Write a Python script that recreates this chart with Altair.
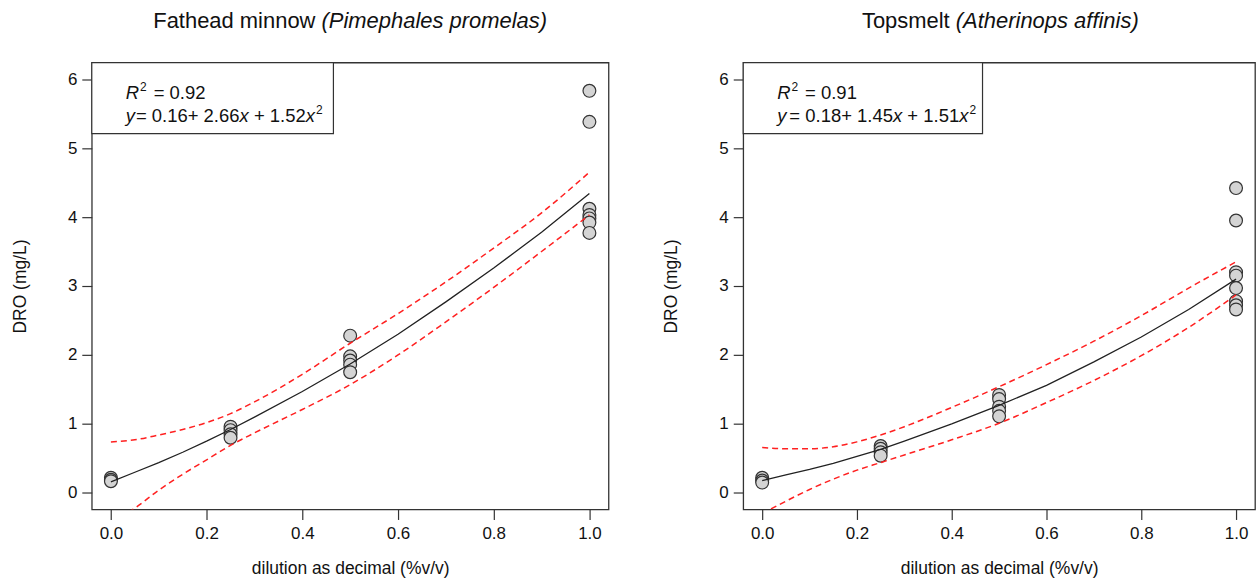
import altair as alt
import pandas as pd

# ---------------- data ----------------
# Fathead minnow
fm_x = [0, 0, 0, 0.25, 0.25, 0.25, 0.25, 0.5, 0.5, 0.5, 0.5, 0.5,
        1, 1, 1, 1, 1, 1, 1]
fm_y = [0.22, 0.19, 0.17, 0.96, 0.91, 0.85, 0.80, 2.28, 1.98, 1.92, 1.86, 1.75,
        5.83, 5.38, 4.12, 4.03, 3.98, 3.92, 3.77]
fm_cx = [0, 0.05, 0.1, 0.15, 0.2, 0.25, 0.3, 0.4, 0.5, 0.6, 0.7, 0.8, 0.9, 1.0]
fm_fit = [0.16, 0.30, 0.44, 0.59, 0.75, 0.92, 1.10, 1.47, 1.87, 2.30, 2.77, 3.26, 3.78, 4.34]
fm_up = [0.74, 0.77, 0.84, 0.92, 1.02, 1.15, 1.32, 1.72, 2.17, 2.60, 3.06, 3.55, 4.06, 4.65]
fm_lo = [-0.42, -0.22, 0.04, 0.27, 0.48, 0.69, 0.87, 1.21, 1.57, 2.00, 2.48, 2.98, 3.50, 4.03]

# Topsmelt
ts_x = [0, 0, 0, 0.25, 0.25, 0.25, 0.25, 0.5, 0.5, 0.5, 0.5, 0.5,
        1, 1, 1, 1, 1, 1, 1, 1]
ts_y = [0.22, 0.18, 0.15, 0.68, 0.64, 0.59, 0.54, 1.42, 1.36, 1.25, 1.19, 1.11,
        4.42, 3.95, 3.20, 3.15, 2.97, 2.78, 2.72, 2.66]
ts_cx = [0, 0.05, 0.1, 0.15, 0.2, 0.25, 0.3, 0.4, 0.5, 0.6, 0.7, 0.8, 0.9, 1.0]
ts_fit = [0.18, 0.26, 0.34, 0.43, 0.53, 0.63, 0.75, 1.00, 1.27, 1.56, 1.90, 2.26, 2.66, 3.10]
ts_up = [0.66, 0.64, 0.64, 0.67, 0.74, 0.84, 0.96, 1.24, 1.54, 1.86, 2.20, 2.57, 2.97, 3.35]
ts_lo = [-0.30, -0.12, 0.05, 0.20, 0.33, 0.44, 0.55, 0.77, 1.01, 1.31, 1.63, 1.99, 2.40, 2.87]

x_ticks = [0.0, 0.2, 0.4, 0.6, 0.8, 1.0]
y_ticks = [0, 1, 2, 3, 4, 5, 6]

titles = {
    "fm": ("Fathead minnow", "(Pimephales promelas)"),
    "ts": ("Topsmelt", "(Atherinops affinis)"),
}
r2 = {"fm": "0.92", "ts": "0.91"}
eq = {"fm": ["0.16", "2.66", "1.52"], "ts": ["0.18", "1.45", "1.51"]}

# ---------------- layout / style ----------------
W_LEFT = 518
W_RIGHT = 513
H_PLOT = 448
FONT = "Liberation Sans, Arial, Helvetica, sans-serif"
X_DOM = [-0.04, 1.04]
Y_DOM = [-0.24, 6.24]
BOX_X2 = 0.465
BOX_Y1 = 5.21
TXT = "#111111"
EQ_GAP = {"fm": 1, "ts": 3}

AW = {" ": 278, "(": 333, ")": 333, "A": 667, "F": 611, "P": 667, "T": 611,
      "R": 722, "=": 584, "+": 584, ".": 278, "a": 556, "d": 556, "e": 556,
      "f": 278, "h": 556, "i": 222, "l": 222, "m": 833, "n": 556, "o": 556,
      "p": 556, "r": 333, "s": 500, "t": 278, "w": 722, "y": 500, "x": 500}


def tw(s, size):
    return sum(AW.get(c, 556) for c in s) * size / 1000.0


def txt(t, x, y, size, italic=False, align="left"):
    return alt.Chart(alt.Data(values=[{"a": 1}])).mark_text(
        text=t, align=align, baseline="alphabetic", fontSize=size,
        fontStyle="italic" if italic else "normal", font=FONT, color=TXT
    ).encode(x=alt.value(x), y=alt.value(y))


def panel(key, width, px, py, cx, fit, up, lo):
    xs = alt.Scale(domain=X_DOM, nice=False, zero=False)
    ys = alt.Scale(domain=Y_DOM, nice=False, zero=False)
    xax = alt.Axis(values=x_ticks, format=".1f", title="dilution as decimal (%v/v)")
    yax = alt.Axis(values=y_ticks, format="d", title="DRO (mg/L)")

    pts = alt.Chart(pd.DataFrame({"x": px, "y": py})).mark_point(
        shape="circle", filled=True, fill="#d4d4d4", stroke="#333333",
        strokeWidth=1.2, size=165, opacity=1
    ).encode(x=alt.X("x:Q", scale=xs, axis=xax), y=alt.Y("y:Q", scale=ys, axis=yax))

    cdf = pd.DataFrame({"x": cx, "fit": fit, "up": up, "lo": lo})
    base = alt.Chart(cdf)
    fitl = base.mark_line(color="#222222", strokeWidth=1.3, clip=True).encode(
        x=alt.X("x:Q", scale=xs), y=alt.Y("fit:Q", scale=ys))
    upl = base.mark_line(color="#ff2020", strokeWidth=1.5, strokeDash=[6, 4],
                         clip=True, interpolate="monotone").encode(
        x=alt.X("x:Q", scale=xs), y=alt.Y("up:Q", scale=ys))
    lol = base.mark_line(color="#ff2020", strokeWidth=1.5, strokeDash=[6, 4],
                         clip=True, interpolate="monotone").encode(
        x=alt.X("x:Q", scale=xs), y=alt.Y("lo:Q", scale=ys))

    box = alt.Chart(alt.Data(values=[{"x1": X_DOM[0], "x2": BOX_X2,
                                      "y1": BOX_Y1, "y2": Y_DOM[1]}])).mark_rect(
        fill="white", stroke="#333333", strokeWidth=1.2
    ).encode(x=alt.X("x1:Q", scale=xs), x2="x2:Q",
             y=alt.Y("y1:Q", scale=ys), y2="y2:Q")

    layers = [pts, fitl, upl, lol, box]

    # title pieces: normal part right-aligned, italic part left-aligned
    tsz = 22
    normal, ital = titles[key]
    total = tw(normal + " " + ital, tsz)
    x0 = width / 2 - total / 2
    split = x0 + tw(normal, tsz)
    layers.append(txt(normal, split, -35, tsz, False, align="right"))
    layers.append(txt(ital, split + tw(" ", tsz), -35, tsz, True))

    # legend text
    lx = 34
    b1, b2 = 37, 60
    s, ss = 18.5, 12
    layers.append(txt("R", lx, b1, s, True))
    layers.append(txt("2", lx + tw("R", s) + 1, b1 - 8, ss))
    layers.append(txt("= " + r2[key], lx + tw("R", s) + tw("2", ss) + 8, b1, s))
    a, b, c = eq[key]
    x = lx
    layers.append(txt("y", x, b2, s, True)); x += tw("y", s) + EQ_GAP[key]
    part = "= " + a + "+ " + b
    layers.append(txt(part, x, b2, s)); x += tw(part, s)
    layers.append(txt("x", x, b2, s, True)); x += tw("x ", s)
    part = "+ " + c
    layers.append(txt(part, x, b2, s)); x += tw(part, s)
    layers.append(txt("x", x, b2, s, True)); x += tw("x", s) + 1
    layers.append(txt("2", x, b2 - 8, ss))

    return alt.layer(*layers).properties(width=width, height=H_PLOT)


left = panel("fm", W_LEFT, fm_x, fm_y, fm_cx, fm_fit, fm_up, fm_lo)
right = panel("ts", W_RIGHT, ts_x, ts_y, ts_cx, ts_fit, ts_up, ts_lo)

chart = alt.hconcat(left, right, spacing=52).properties(
    padding={"left": 10, "top": 8, "right": 0, "bottom": 0}
).configure_view(
    stroke="#333333", strokeWidth=1.3
).configure_axis(
    grid=False, domain=False, tickColor="#333333", tickSize=10, tickWidth=1.2,
    labelFont=FONT, titleFont=FONT, labelFontSize=17, titleFontSize=17.5,
    labelColor=TXT, titleColor=TXT, titleFontWeight="normal"
).configure_axisY(
    labelPadding=5, titlePadding=38
).configure_axisX(
    labelPadding=6, titlePadding=18
)

chart.save("out.html", embed_options={"renderer": "svg", "actions": False})
